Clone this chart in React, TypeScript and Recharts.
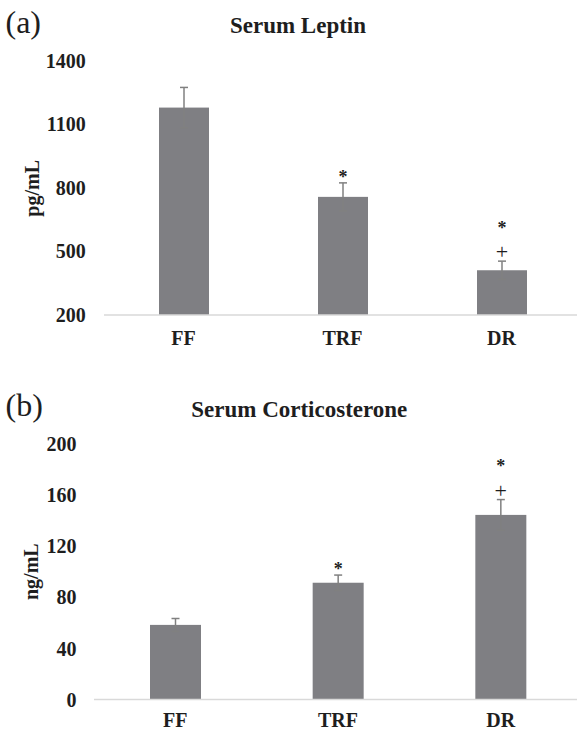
import React from 'react';
import { BarChart, Bar, XAxis, YAxis, ErrorBar } from 'recharts';

const categories = ['FF', 'TRF', 'DR'];

const leptinValues = [1178, 757, 411];
const leptinErrors = [95, 66, 43];
const leptinMarks = ['', '*', '*+'];
const leptinTicks = [200, 500, 800, 1100, 1400];

const corticoValues = [58.4, 91.4, 144.5];
const corticoErrors = [5, 6, 12];
const corticoMarks = ['', '*', '*+'];
const corticoTicks = [0, 40, 80, 120, 160, 200];

const FONT = "'Liberation Serif', 'Times New Roman', serif";
const TEXT = '#1e1e1e';
const BAR = '#7f7f83';

const leptinData = categories.map((name, i) => ({
  name,
  value: leptinValues[i],
  err: leptinErrors[i],
  mark: leptinMarks[i],
}));
const corticoData = categories.map((name, i) => ({
  name,
  value: corticoValues[i],
  err: corticoErrors[i],
  mark: corticoMarks[i],
}));

function makeShape(base: number) {
  return (props: any) => {
    const { x, y, width, height, payload } = props;
    const unit = height / (payload.value - base);
    const errTop = y - payload.err * unit;
    const cx = x + width / 2;
    const marks: string = payload.mark || '';
    const hasPlus = marks.includes('+');
    const hasStar = marks.includes('*');
    return (
      <g>
        <rect x={x} y={y} width={width} height={height} fill={BAR} />
        {hasStar && (
          <text
            x={cx}
            y={hasPlus ? errTop - 27.6 : errTop}
            textAnchor="middle"
            fontSize={18}
            fontWeight="bold"
            fontFamily={FONT}
            fill={TEXT}
          >
            *
          </text>
        )}
        {hasPlus && (
          <text x={cx} y={errTop - 2} textAnchor="middle" fontSize={22} fontFamily={FONT} fill={TEXT}>
            +
          </text>
        )}
      </g>
    );
  };
}

const tickStyle = { fontSize: 20, fontWeight: 'bold', fontFamily: FONT, fill: TEXT };

export default function App() {
  return (
    <div
      style={{
        position: 'absolute',
        left: 0,
        top: 0,
        width: 577,
        height: 731,
        overflow: 'hidden',
        background: '#fff',
      }}
    >
      <div style={{ position: 'absolute', left: 0, top: 0 }}>
        <BarChart
          width={581}
          height={360}
          data={leptinData}
          margin={{ top: 60.5, right: 0, bottom: 0, left: 0 }}
        >
          <XAxis
            dataKey="name"
            height={45}
            tickLine={false}
            tickSize={0}
            tickMargin={15.7}
            axisLine={{ stroke: '#d9d9d9', strokeWidth: 1.5 }}
            tick={tickStyle}
          />
          <YAxis
            type="number"
            width={104}
            domain={[200, 1400]}
            ticks={leptinTicks}
            interval={0}
            axisLine={false}
            tickLine={false}
            tickSize={0}
            tickMargin={18.3}
            tick={tickStyle}
          />
          <Bar dataKey="value" barSize={50} fill={BAR} isAnimationActive={false} shape={makeShape(leptinTicks[0])}>
            <ErrorBar dataKey="err" width={4} stroke="#808080" strokeWidth={1.5} direction="y" />
          </Bar>
        </BarChart>
      </div>
      <div style={{ position: 'absolute', left: 0, top: 370 }}>
        <BarChart
          width={582}
          height={361}
          data={corticoData}
          margin={{ top: 74, right: 0, bottom: 0, left: 0 }}
        >
          <XAxis
            dataKey="name"
            height={31.5}
            tickLine={false}
            tickSize={0}
            tickMargin={12.8}
            axisLine={{ stroke: '#d9d9d9', strokeWidth: 1.5 }}
            tick={tickStyle}
          />
          <YAxis
            type="number"
            width={94}
            domain={[0, 200]}
            ticks={corticoTicks}
            interval={0}
            axisLine={false}
            tickLine={false}
            tickSize={0}
            tickMargin={17.5}
            tick={tickStyle}
          />
          <Bar dataKey="value" barSize={51} fill={BAR} isAnimationActive={false} shape={makeShape(corticoTicks[0])}>
            <ErrorBar dataKey="err" width={4} stroke="#808080" strokeWidth={1.5} direction="y" />
          </Bar>
        </BarChart>
      </div>
      <svg
        width={577}
        height={731}
        style={{ position: 'absolute', left: 0, top: 0, pointerEvents: 'none' }}
      >
        <text x={5.5} y={32.7} fontSize={32} fontFamily={FONT} fill={TEXT}>(a)</text>
        <text x={298} y={33} textAnchor="middle" fontSize={23} fontWeight="bold" fontFamily={FONT} fill={TEXT}>
          Serum Leptin
        </text>
        <text
          transform="translate(38.5,188.3) rotate(-90)"
          textAnchor="middle"
          fontSize={20}
          fontWeight="bold"
          fontFamily={FONT}
          fill={TEXT}
        >
          pg/mL
        </text>
        <text x={5.5} y={415.5} fontSize={32} fontFamily={FONT} fill={TEXT}>(b)</text>
        <text x={299.3} y={417} textAnchor="middle" fontSize={23} fontWeight="bold" fontFamily={FONT} fill={TEXT}>
          Serum Corticosterone
        </text>
        <text
          transform="translate(38,571.7) rotate(-90)"
          textAnchor="middle"
          fontSize={20}
          fontWeight="bold"
          fontFamily={FONT}
          fill={TEXT}
        >
          ng/mL
        </text>
      </svg>
    </div>
  );
}
